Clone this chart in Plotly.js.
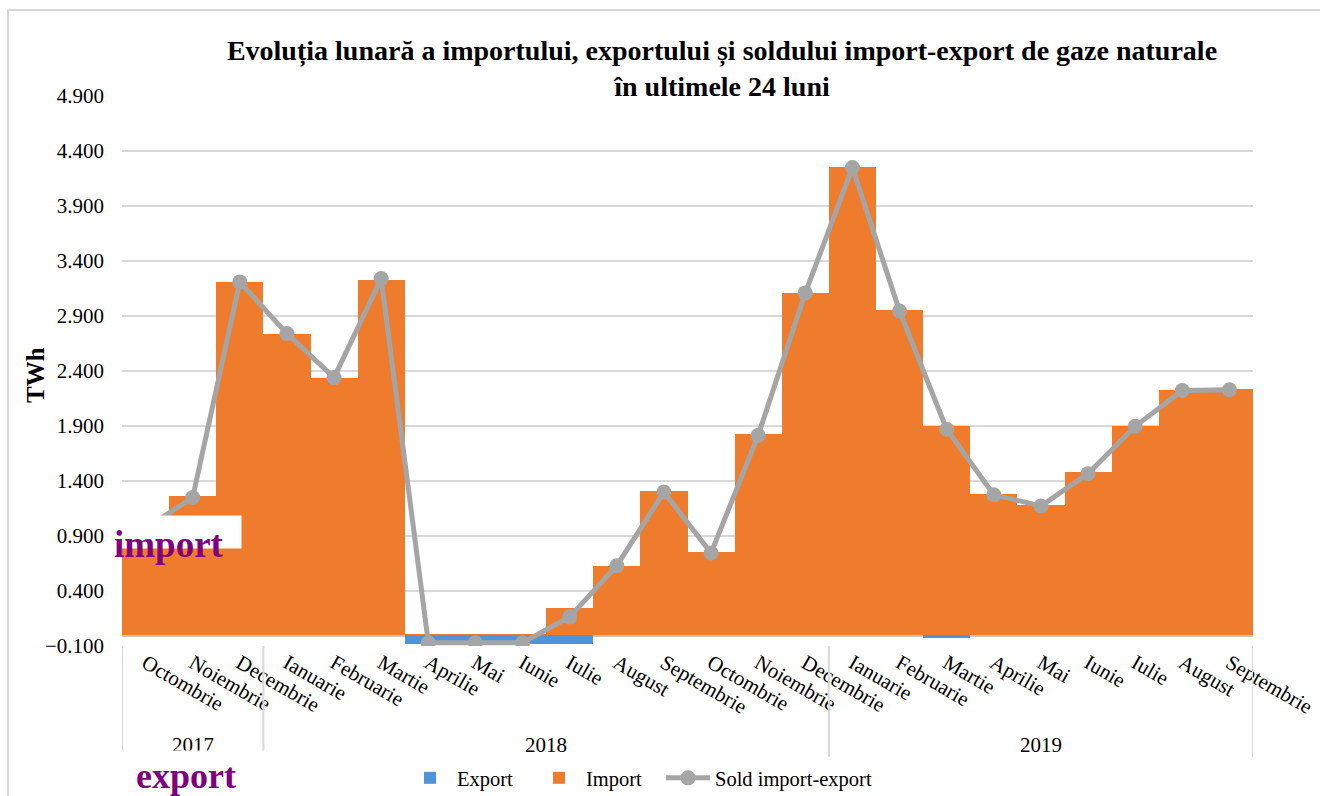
<!DOCTYPE html>
<html>
<head>
<meta charset="utf-8">
<script src="https://cdn.plot.ly/plotly-3.0.1.min.js"></script>
<style>html,body{margin:0;padding:0;background:#fff;}#chart{width:1320px;height:796px;}</style>
</head>
<body>
<div id="chart"></div>
<script>
const months = ["Octombrie","Noiembrie","Decembrie","Ianuarie","Februarie","Martie","Aprilie","Mai","Iunie","Iulie","August","Septembrie","Octombrie","Noiembrie","Decembrie","Ianuarie","Februarie","Martie","Aprilie","Mai","Iunie","Iulie","August","Septembrie"];
const years = ["2017","2017","2017","2018","2018","2018","2018","2018","2018","2018","2018","2018","2018","2018","2018","2019","2019","2019","2019","2019","2019","2019","2019","2019"];
const importVals = [0.98, 1.26, 3.21, 2.74, 2.34, 3.23, 0.01, 0.01, 0.01, 0.245, 0.63, 1.31, 0.755, 1.825, 3.11, 4.255, 2.955, 1.90, 1.285, 1.18, 1.478, 1.903, 2.225, 2.232];
const exportVals = [0, 0, 0, 0, 0, 0, -0.08, -0.08, -0.08, -0.08, 0, 0, 0, 0, 0, 0, 0, -0.03, 0, 0, 0, 0, 0, 0];
const soldVals = [0.97, 1.25, 3.21, 2.74, 2.34, 3.24, -0.07, -0.07, -0.07, 0.165, 0.63, 1.30, 0.745, 1.815, 3.11, 4.25, 2.945, 1.87, 1.275, 1.173, 1.467, 1.897, 2.223, 2.23];
const seriesNames = ["Export", "Import", "Sold import-export"];
const titleText = "Evoluția lunară a importului, exportului și soldului import-export de gaze naturale<br>în ultimele 24 luni";
const yTitle = "TWh";

const xIdx = months.map((_, i) => i);
const FONT = "Liberation Serif, Times New Roman, serif";

// pixel helpers (plot area: x 122..1253, y 96..646)
const L = 122, R = 1253, T = 96, B = 646;
const px = x => (x - L) / (R - L);
const py = y => (B - y) / (B - T);

// year groups
const groups = [];
years.forEach((y, i) => {
  if (!groups.length || groups[groups.length - 1].year !== y) groups.push({year: y, start: i, end: i});
  else groups[groups.length - 1].end = i;
});

const traces = [
  {type: "bar", name: seriesNames[0], legend: "legend", x: xIdx, y: exportVals, marker: {color: "#4f93d8", line: {width: 0}}, hoverinfo: "skip"},
  {type: "bar", name: seriesNames[1], legend: "legend2", x: xIdx, y: importVals, marker: {color: "#ef7c2d", line: {width: 0}}, hoverinfo: "skip"},
  {type: "scatter", mode: "lines+markers", name: seriesNames[2], legend: "legend3", x: xIdx, y: soldVals,
   line: {color: "#a5a5a5", width: 5}, marker: {color: "#a5a5a5", size: 15}, hoverinfo: "skip"}
];

const shapes = [
  {type: "rect", xref: "paper", yref: "paper", x0: px(8), x1: px(1340), y0: py(10), y1: py(820),
   line: {color: "#d9d9d9", width: 2}, fillcolor: "rgba(0,0,0,0)", layer: "below"}
];
const bounds = [groups[0].start - 0.5].concat(groups.map(g => g.end + 0.5));
bounds.forEach(b => shapes.push({type: "line", xref: "x", yref: "paper", x0: b, x1: b, y0: py(646), y1: py(757),
  line: {color: "#d9d9d9", width: 2}}));

const annotations = groups.map(g => ({
  xref: "x", yref: "paper", x: (g.start + g.end) / 2, y: py(745), text: g.year, showarrow: false,
  font: {family: FONT, size: 21, color: "#000"}, xanchor: "center", yanchor: "middle"
}));
// y-axis title
annotations.push({xref: "paper", yref: "paper", x: px(35), y: py(375), xanchor: "center", yanchor: "middle",
  text: "<b>" + yTitle + "</b>", textangle: -90, showarrow: false, font: {family: FONT, size: 25, color: "#000"}});
// white cover boxes + overlay words
annotations.push({xref: "paper", yref: "paper", x: px(120), y: py(750), xanchor: "left", yanchor: "top",
  text: " ", width: 145, height: 50, bgcolor: "#ffffff", showarrow: false, borderpad: 0});
annotations.push({xref: "paper", yref: "paper", x: px(134), y: py(776), xanchor: "left", yanchor: "middle",
  text: "<b>export</b>", showarrow: false, font: {family: FONT, size: 36, color: "#800080"}});
annotations.push({xref: "paper", yref: "paper", x: px(115), y: py(515), xanchor: "left", yanchor: "top",
  text: " ", width: 125, height: 32, bgcolor: "#ffffff", showarrow: false, borderpad: 0});
annotations.push({xref: "paper", yref: "paper", x: px(112), y: py(544), xanchor: "left", yanchor: "middle",
  text: "<b>import</b>", showarrow: false, font: {family: FONT, size: 37, color: "#800080"}});

const legendBase = {orientation: "h", xanchor: "left", y: py(778), yanchor: "middle",
  font: {family: FONT, size: 20.5, color: "#000"}, itemwidth: 44, bgcolor: "rgba(0,0,0,0)"};

const layout = {
  width: 1320, height: 796,
  margin: {l: L, r: 1320 - R, t: T, b: 796 - B, pad: 0, autoexpand: false},
  paper_bgcolor: "#ffffff", plot_bgcolor: "#ffffff",
  font: {family: FONT, size: 21, color: "#000"},
  title: {text: titleText, font: {family: FONT, size: 28, color: "#000", weight: "bold"},
    x: 722 / 1320, xanchor: "center", y: 1 - 60 / 796, yanchor: "middle"},
  barmode: "relative", bargap: 0,
  showlegend: true,
  legend: Object.assign({}, legendBase, {x: px(403)}),
  legend2: Object.assign({}, legendBase, {x: px(532)}),
  legend3: Object.assign({}, legendBase, {x: px(661)}),
  xaxis: {range: [-0.5, months.length - 0.5], tickmode: "array", tickvals: xIdx, ticktext: months,
    tickangle: 30, tickfont: {family: FONT, size: 21, color: "#000"}, showgrid: false, zeroline: false,
    showline: false, ticks: "", fixedrange: true, automargin: false},
  yaxis: {range: [-0.1, 4.9], tick0: -0.1, dtick: 0.5, tickformat: ".3f",
    tickfont: {family: FONT, size: 21, color: "#000"}, gridcolor: "#d9d9d9", gridwidth: 2,
    zeroline: true, zerolinecolor: "#c4c4c4", zerolinewidth: 3, showline: false, ticks: "",
    ticklabelstandoff: 17, automargin: false},
  shapes: shapes,
  annotations: annotations
};

Plotly.newPlot("chart", traces, layout, {displayModeBar: false, staticPlot: true});
</script>
</body>
</html>
